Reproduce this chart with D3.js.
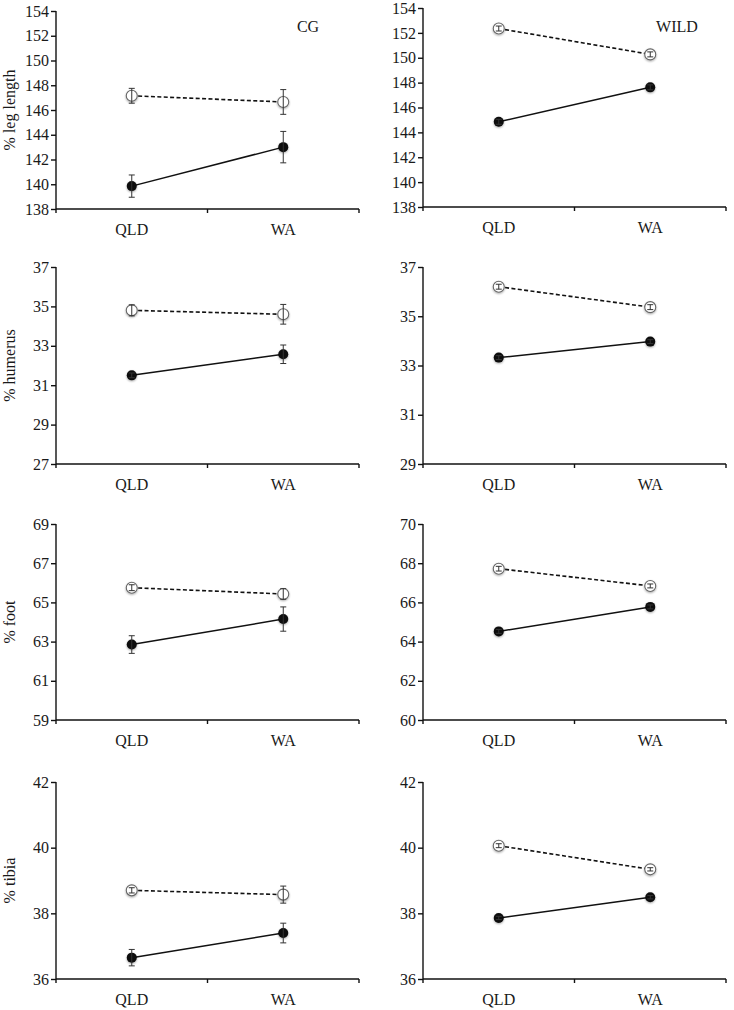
<!DOCTYPE html>
<html>
<head>
<meta charset="utf-8">
<script src="https://cdn.jsdelivr.net/npm/d3@7"></script>
<style>
  body { margin: 0; background: #fff; }
  svg { display: block; }
  svg text { font-family: "Liberation Serif", "Times New Roman", Times, "DejaVu Serif", serif !important; fill: #1a1a1a; }
</style>
</head>
<body>
<svg id="chart" width="734" height="1010"></svg>
<script>
// ---------- data ----------
const sites = ["QLD", "WA"];
const traits = ["% leg length", "% humerus", "% foot", "% tibia"];
const groups = ["CG", "WILD"];

const cgDomains   = [[138, 154], [27, 37], [59, 69], [36, 42]];
const wildDomains = [[138, 154], [29, 37], [60, 70], [36, 42]];

const cgDashed       = [[147.15, 146.65], [34.8, 34.6], [65.75, 65.43], [38.7, 38.57]];
const cgDashedErr    = [[0.6, 1.0], [0.28, 0.5], [0.15, 0.27], [0.08, 0.26]];
const cgSolid        = [[139.85, 143.0], [31.5, 32.57], [62.85, 64.15], [36.65, 37.4]];
const cgSolidErr     = [[0.9, 1.27], [0.12, 0.47], [0.45, 0.62], [0.25, 0.3]];

const wildDashed     = [[152.35, 150.27], [36.2, 35.37], [67.72, 66.84], [40.06, 39.34]];
const wildDashedErr  = [[0.2, 0.2], [0.1, 0.1], [0.12, 0.1], [0.06, 0.05]];
const wildSolid      = [[144.85, 147.62], [33.32, 33.97], [64.52, 65.77], [37.86, 38.49]];
const wildSolidErr   = [[0.2, 0.2], [0.08, 0.08], [0.1, 0.1], [0.05, 0.05]];

// ---------- layout ----------
const FONT = "'Liberation Serif', 'Times New Roman', Times, serif";
const svg = d3.select("#chart");
const defs = svg.append("defs");
const f = defs.append("filter").attr("id", "glow").attr("x", "-50%").attr("y", "-50%").attr("width", "200%").attr("height", "200%");
f.append("feGaussianBlur").attr("in", "SourceAlpha").attr("stdDeviation", 1.3).attr("result", "b");
f.append("feOffset").attr("in", "b").attr("dx", 0).attr("dy", 0.5).attr("result", "o");
f.append("feComponentTransfer").attr("in", "o").attr("result", "t")
  .append("feFuncA").attr("type", "linear").attr("slope", 0.35);
const m = f.append("feMerge");
m.append("feMergeNode").attr("in", "t");
m.append("feMergeNode").attr("in", "SourceGraphic");

const colX = [[56, 359], [423, 726]];
const rowY = [[[11, 209], [8, 207]], [[267, 464], [267, 464]], [[524, 720], [524, 720]], [[782, 979], [782, 979]]];

function panel(row, col, domain, dashed, dashedErr, solid, solidErr) {
  const [x0, x1] = colX[col];
  const [y0, y1] = rowY[row][col];
  const g = svg.append("g");

  const x = d3.scaleBand().domain(sites).range([x0, x1]);
  const y = d3.scaleLinear().domain(domain).range([y1, y0]);
  const cx = s => x(s) + x.bandwidth() / 2;

  const ticks = d3.range(domain[0], domain[1] + 0.001, 2);
  const yAxis = g.append("g").attr("transform", `translate(${x0},0)`)
    .call(d3.axisLeft(y).tickValues(ticks).tickSize(5).tickPadding(2).tickFormat(d3.format("d")));
  yAxis.attr("font-family", null).attr("font-size", null);
  yAxis.select(".domain").attr("d", `M0,${y0}V${y1}`);

  // x axis with boundary ticks
  const xa = g.append("g");
  xa.append("line").attr("x1", x0).attr("x2", x1).attr("y1", y1).attr("y2", y1);
  const bounds = [x0, ...sites.slice(1).map(s => x(s)), x1];
  xa.selectAll("line.tk").data(bounds).join("line").attr("class", "tk")
    .attr("x1", d => d).attr("x2", d => d).attr("y1", y1).attr("y2", y1 + 4);
  xa.selectAll("line").attr("stroke", "#111").attr("stroke-width", 1.4);
  xa.selectAll("text").data(sites).join("text")
    .attr("x", d => cx(d)).attr("y", y1 + 26).attr("text-anchor", "middle")
    .style("font-family", FONT).style("font-size", "16px").text(d => d);

  yAxis.selectAll("path, line").attr("stroke", "#111").attr("stroke-width", 1.4);
  yAxis.selectAll("text").style("font-size", "16px").style("font-family", FONT).attr("fill", "#1a1a1a");

  const line = d3.line().x((d, i) => cx(sites[i])).y(d => y(d));

  // lines
  g.append("path").datum(solid).attr("d", line).attr("fill", "none")
    .attr("stroke", "#111").attr("stroke-width", 1.5);
  g.append("path").datum(dashed).attr("d", line).attr("fill", "none")
    .attr("stroke", "#111").attr("stroke-width", 1.6).attr("stroke-dasharray", "4,2.4");

  function errs(vals, ev) {
    const eg = g.append("g").attr("stroke", "#333").attr("stroke-width", 1);
    vals.forEach((v, i) => {
      const xx = cx(sites[i]);
      const t = y(v + ev[i]), b = y(v - ev[i]);
      eg.append("line").attr("x1", xx).attr("x2", xx).attr("y1", t).attr("y2", b);
      eg.append("line").attr("x1", xx - 3).attr("x2", xx + 3).attr("y1", t).attr("y2", t);
      eg.append("line").attr("x1", xx - 3).attr("x2", xx + 3).attr("y1", b).attr("y2", b);
    });
  }

  // markers
  g.append("g").selectAll("circle").data(solid).join("circle")
    .attr("cx", (d, i) => cx(sites[i])).attr("cy", d => y(d)).attr("r", 5)
    .attr("fill", "#0a0a0a").attr("filter", "url(#glow)");
  errs(solid, solidErr);
  g.append("g").selectAll("circle").data(dashed).join("circle")
    .attr("cx", (d, i) => cx(sites[i])).attr("cy", d => y(d)).attr("r", 5.5)
    .attr("fill", "#fff").attr("stroke", "#666").attr("stroke-width", 1.1).attr("filter", "url(#glow)");
  errs(dashed, dashedErr);

  // y label (left column only)
  if (col === 0) {
    g.append("text").attr("transform", `translate(15,${(y0 + y1) / 2}) rotate(-90)`)
      .attr("text-anchor", "middle").style("font-family", FONT).style("font-size", "16px").text(traits[row]);
  }
  if (row === 0) {
    const lx = col === 0 ? 308 : 677;
    g.append("text").attr("x", lx).attr("y", 32).attr("text-anchor", "middle")
      .style("font-family", FONT).style("font-size", "16px").text(groups[col]);
  }
}

for (let r = 0; r < traits.length; r++) {
  panel(r, 0, cgDomains[r], cgDashed[r], cgDashedErr[r], cgSolid[r], cgSolidErr[r]);
  panel(r, 1, wildDomains[r], wildDashed[r], wildDashedErr[r], wildSolid[r], wildSolidErr[r]);
}
</script>
</body>
</html>
